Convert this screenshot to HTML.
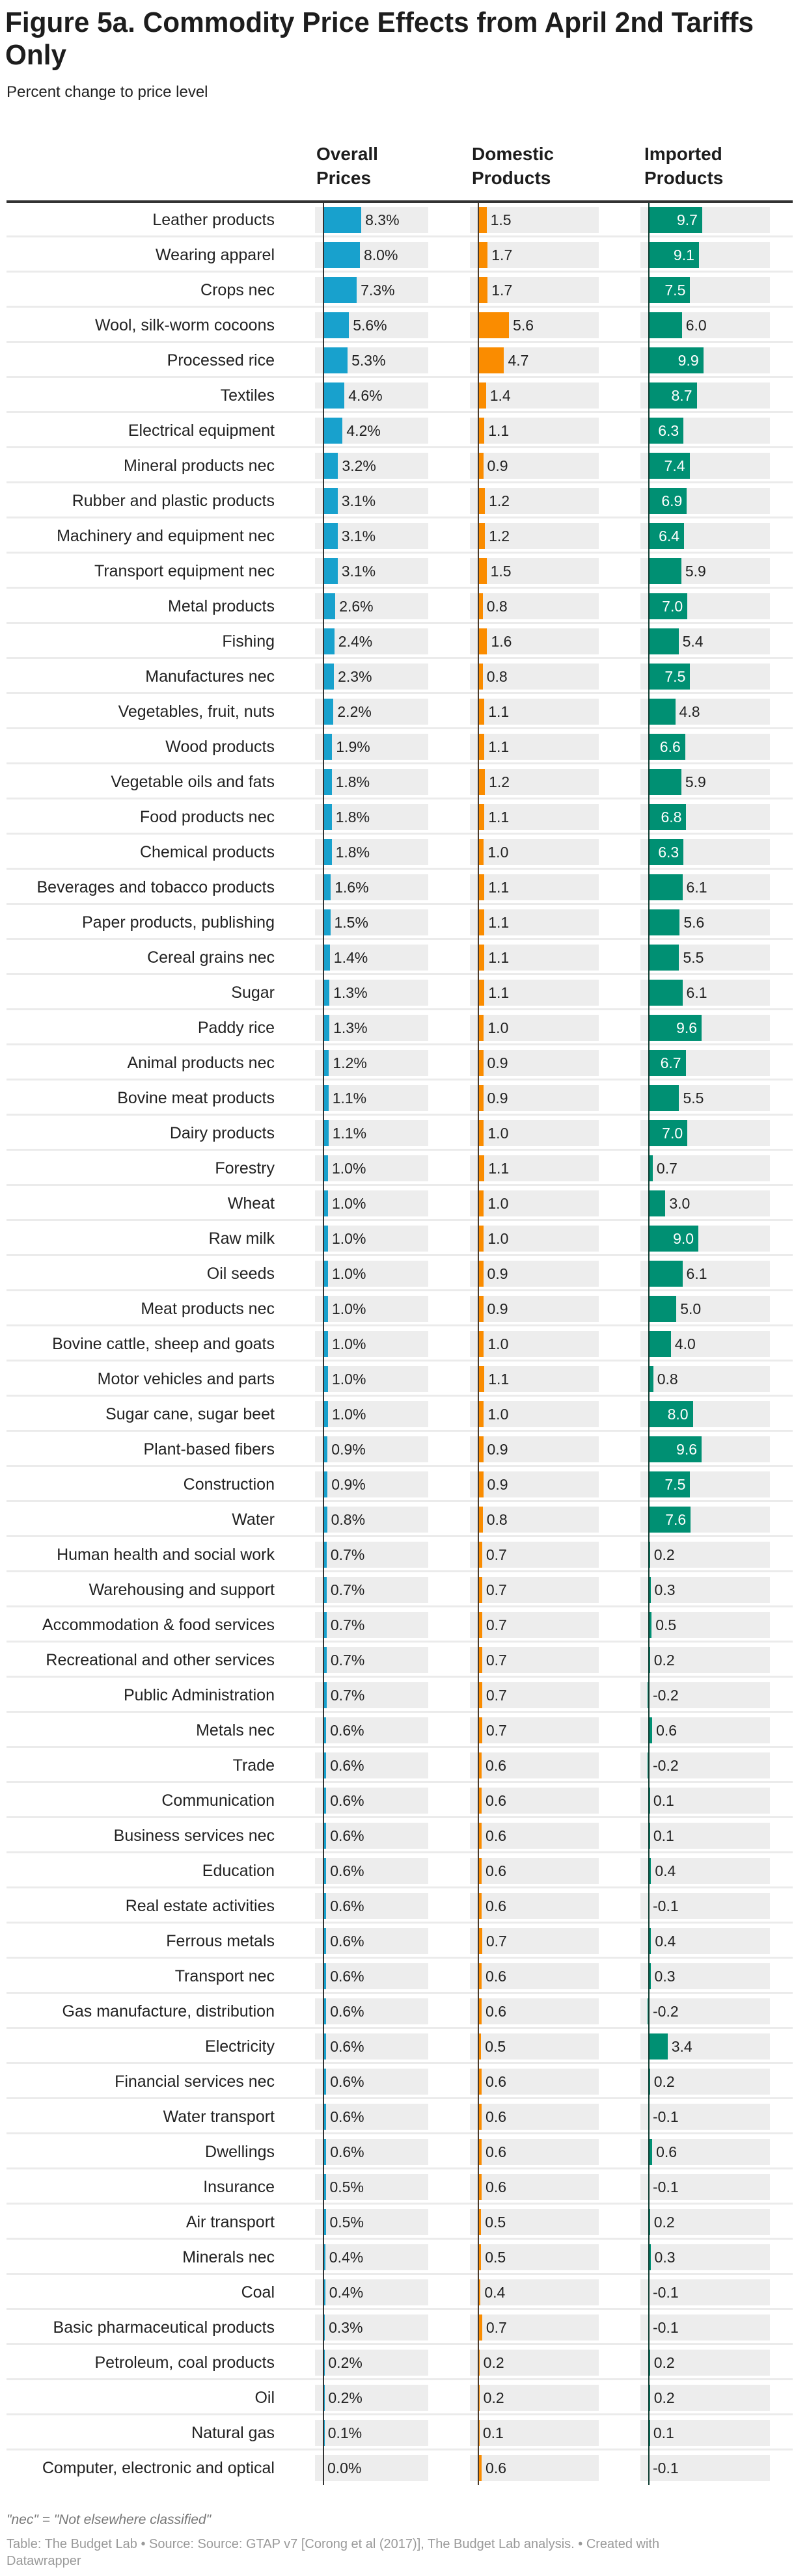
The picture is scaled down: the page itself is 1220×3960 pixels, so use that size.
<!DOCTYPE html>
<html><head><meta charset="utf-8">
<style>
html,body{margin:0;padding:0;background:#fff;}
body{width:1220px;height:3960px;position:relative;overflow:hidden;font-family:"Liberation Sans",Arial,sans-serif;color:#1d1d1d;}
.abs{position:absolute;white-space:nowrap;}
.title{font-weight:bold;font-size:44px;line-height:50px;transform-origin:0 0;}
.hdr{font-weight:bold;font-size:28px;line-height:37px;color:#1d1d1d;}
.lbl{font-size:25px;text-align:right;width:420px;left:2px;line-height:40px;color:#222;}
.bg{background:#ededed;height:40px;}
.val{font-size:23px;line-height:40px;color:#222;}
.sep{left:10px;width:1208px;height:3px;background:#ebebeb;}
.axis{width:2px;background:#444;}
</style></head>
<body>
<div class="abs title" id="t1" style="left:8px;top:10px;">Figure 5a. Commodity Price Effects from April 2nd Tariffs</div>
<div class="abs title" id="t2" style="left:8px;top:60px;">Only</div>
<div class="abs" style="left:10px;top:128px;font-size:24px;color:#222;">Percent change to price level</div>
<div class="abs hdr" style="left:486px;top:218px;">Overall<br>Prices</div>
<div class="abs hdr" style="left:725px;top:218px;">Domestic<br>Products</div>
<div class="abs hdr" style="left:990px;top:218px;">Imported<br>Products</div>
<div class="abs" style="left:10px;top:308px;width:1208px;height:4px;background:#333;"></div>
<div id="rows"></div>
<div class="abs" style="left:10px;top:3862px;font-size:21px;font-style:italic;color:#777;">"nec" = "Not elsewhere classified"</div>
<div class="abs" style="left:10px;top:3898px;font-size:20px;line-height:26px;color:#999;white-space:normal;width:1100px;">Table: The Budget Lab • Source: Source: GTAP v7 [Corong et al (2017)], The Budget Lab analysis. • Created with Datawrapper</div>
<script>
const categories=["Leather products","Wearing apparel","Crops nec","Wool, silk-worm cocoons","Processed rice","Textiles","Electrical equipment","Mineral products nec","Rubber and plastic products","Machinery and equipment nec","Transport equipment nec","Metal products","Fishing","Manufactures nec","Vegetables, fruit, nuts","Wood products","Vegetable oils and fats","Food products nec","Chemical products","Beverages and tobacco products","Paper products, publishing","Cereal grains nec","Sugar","Paddy rice","Animal products nec","Bovine meat products","Dairy products","Forestry","Wheat","Raw milk","Oil seeds","Meat products nec","Bovine cattle, sheep and goats","Motor vehicles and parts","Sugar cane, sugar beet","Plant-based fibers","Construction","Water","Human health and social work","Warehousing and support","Accommodation & food services","Recreational and other services","Public Administration","Metals nec","Trade","Communication","Business services nec","Education","Real estate activities","Ferrous metals","Transport nec","Gas manufacture, distribution","Electricity","Financial services nec","Water transport","Dwellings","Insurance","Air transport","Minerals nec","Coal","Basic pharmaceutical products","Petroleum, coal products","Oil","Natural gas","Computer, electronic and optical"];
const overall=[8.3,8.0,7.3,5.6,5.3,4.6,4.2,3.2,3.1,3.1,3.1,2.6,2.4,2.3,2.2,1.9,1.8,1.8,1.8,1.6,1.5,1.4,1.3,1.3,1.2,1.1,1.1,1.0,1.0,1.0,1.0,1.0,1.0,1.0,1.0,0.9,0.9,0.8,0.7,0.7,0.7,0.7,0.7,0.6,0.6,0.6,0.6,0.6,0.6,0.6,0.6,0.6,0.6,0.6,0.6,0.6,0.5,0.5,0.4,0.4,0.3,0.2,0.2,0.1,0.0];
const domestic=[1.5,1.7,1.7,5.6,4.7,1.4,1.1,0.9,1.2,1.2,1.5,0.8,1.6,0.8,1.1,1.1,1.2,1.1,1.0,1.1,1.1,1.1,1.1,1.0,0.9,0.9,1.0,1.1,1.0,1.0,0.9,0.9,1.0,1.1,1.0,0.9,0.9,0.8,0.7,0.7,0.7,0.7,0.7,0.7,0.6,0.6,0.6,0.6,0.6,0.7,0.6,0.6,0.5,0.6,0.6,0.6,0.6,0.5,0.5,0.4,0.7,0.2,0.2,0.1,0.6];
const imported=[9.7,9.1,7.5,6.0,9.9,8.7,6.3,7.4,6.9,6.4,5.9,7.0,5.4,7.5,4.8,6.6,5.9,6.8,6.3,6.1,5.6,5.5,6.1,9.6,6.7,5.5,7.0,0.7,3.0,9.0,6.1,5.0,4.0,0.8,8.0,9.6,7.5,7.6,0.2,0.3,0.5,0.2,-0.2,0.6,-0.2,0.1,0.1,0.4,-0.1,0.4,0.3,-0.2,3.4,0.2,-0.1,0.6,-0.1,0.2,0.3,-0.1,-0.1,0.2,0.2,0.1,-0.1];

const ROW0=318,PITCH=54,BARH=40;
const cols=[
 {key:'overall',data:overall,bgL:484,bgR:658,axis:497,scale:7.0,color:'#18a1cd',axisColor:'#333',suffix:'%'},
 {key:'domestic',data:domestic,bgL:722,bgR:920,axis:735,scale:8.4,color:'#fa8c00',axisColor:'#4a3a2a',suffix:''},
 {key:'imported',data:imported,bgL:984,bgR:1183,axis:997,scale:8.45,color:'#009073',axisColor:'#0d3b30',suffix:'',inside:6.2}
];
function yRow(i){return ROW0+i*PITCH;}
function xVal(c,v){return c.axis+v*c.scale;}
const root=document.getElementById('rows');
function mk(cls,style){const d=document.createElement('div');d.className='abs '+cls;d.setAttribute('style',style);root.appendChild(d);return d;}
categories.forEach((name,i)=>{
  const y=yRow(i);
  if(i>0){const s=mk('sep','top:'+(y-10)+'px;');
    
    }
  const l=mk('lbl','top:'+y+'px;');l.textContent=name;
  
  
  cols.forEach(c=>{
    const bg=mk('bg','left:'+c.bgL+'px;top:'+y+'px;width:'+(c.bgR-c.bgL)+'px;');
    
    
    const v=c.data[i];
    const x0=Math.min(xVal(c,0),xVal(c,v)),x1=Math.max(xVal(c,0),xVal(c,v));
    let w=x1-x0; if(v!==0&&w<2)w=2;
    const b=mk('','left:'+x0+'px;top:'+y+'px;width:'+w+'px;height:'+BARH+'px;background:'+c.color+';');
    
    
    const t=mk('val','top:'+y+'px;');
    t.textContent=v.toFixed(1)+c.suffix;
    
    
    if(c.inside!==undefined&&v>=c.inside){
      t.style.left=(x0)+'px';t.style.width=(w-7)+'px';t.style.textAlign='right';t.style.color='#fff';
    }else{
      t.style.left=(Math.max(x1,c.axis)+6)+'px';
    }
  });
});
cols.forEach(c=>{
  const a=mk('axis','left:'+(c.axis-1)+'px;top:312px;height:'+(yRow(categories.length-1)+BARH+6-312)+'px;background:'+c.axisColor+';');
  
  
});
// fit title to measured width
const t1=document.getElementById('t1'),t2=document.getElementById('t2');
const sc=1150/t1.getBoundingClientRect().width;
t1.style.transform='scaleX('+sc+')';t2.style.transform='scaleX('+sc+')';
</script>
</body></html>
